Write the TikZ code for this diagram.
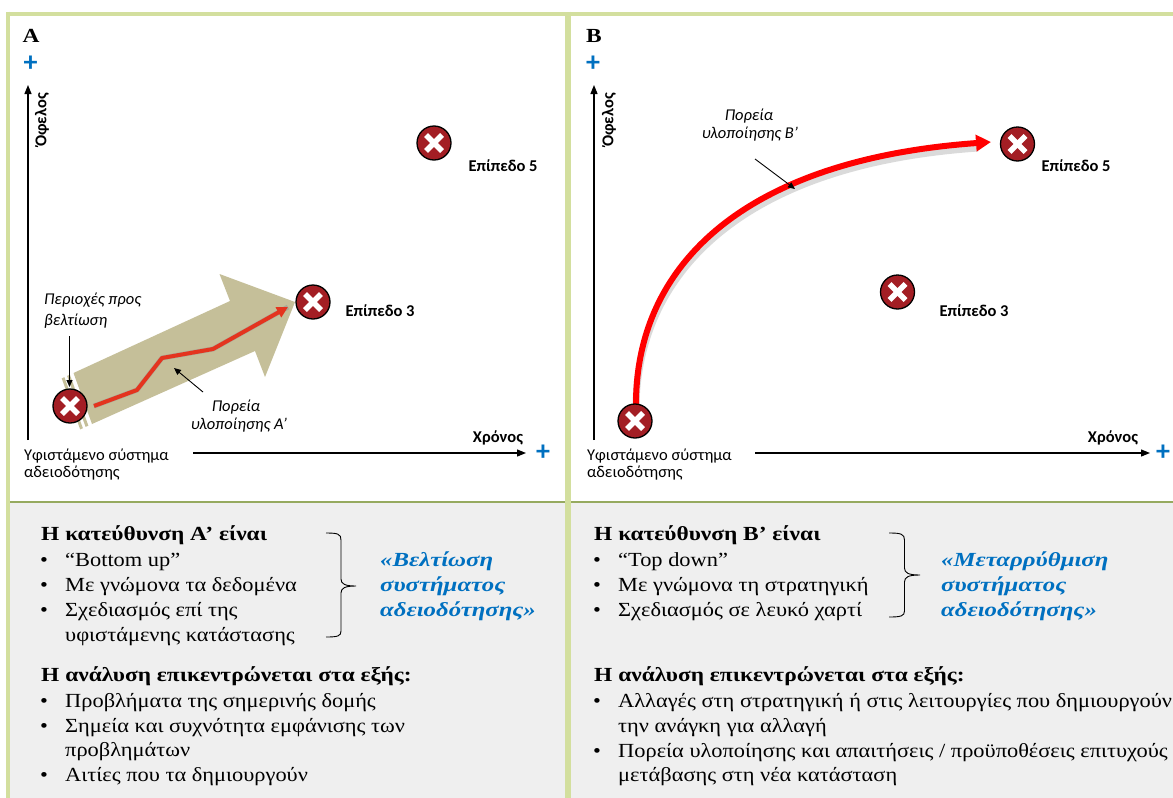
\documentclass[tikz,border=0pt]{standalone}
\usepackage{fontspec}
\setmainfont{Liberation Serif}[FakeStretch=1.12]
\newfontfamily\serifbold{Liberation Serif}[FakeStretch=1.17]
\newfontfamily\serifbi{Liberation Serif}[FakeStretch=1.24]
\setsansfont{Carlito}
\usetikzlibrary{arrows.meta}
\definecolor{frameg}{RGB}{211,223,158}
\definecolor{olivel}{RGB}{150,170,95}
\definecolor{panelgray}{RGB}{239,239,239}
\definecolor{khaki}{RGB}{197,191,153}
\definecolor{redA}{RGB}{228,52,30}
\definecolor{redB}{RGB}{255,0,0}
\definecolor{iconred}{RGB}{163,30,36}
\definecolor{plusblue}{RGB}{0,112,192}
\definecolor{shadowg}{RGB}{150,150,150}
\tikzset{
  icon/.style={circle, minimum size=34pt, inner sep=0pt, fill=iconred, draw=black, line width=1.3pt,
    path picture={
      \draw[white, line width=5.5pt] ([shift={(-8,-8)}]path picture bounding box.center) -- ([shift={(8,8)}]path picture bounding box.center);
      \draw[white, line width=5.5pt] ([shift={(-8,8)}]path picture bounding box.center) -- ([shift={(8,-8)}]path picture bounding box.center);
    }},
  sansreg/.style={font=\sffamily\fontsize{16.5}{19}\selectfont, inner sep=0pt},
  sansbold/.style={font=\sffamily\bfseries\fontsize{16.5}{19}\selectfont, inner sep=0pt},
  sansit/.style={font=\sffamily\itshape\fontsize{16.5}{19}\selectfont, inner sep=0pt},
  plussign/.style={font=\sffamily\bfseries\fontsize{28}{30}\selectfont, text=plusblue, inner sep=0pt},
  panellabel/.style={font=\serifbold\bfseries\fontsize{20}{24}\selectfont, inner sep=0pt, anchor=base},
  axisline/.style={line width=1.2pt, -{Triangle[length=9pt,width=7pt]}},
  pointer/.style={line width=0.9pt, -{Triangle[length=7pt,width=6pt]}},
  tx/.style={font=\fontsize{20}{25}\selectfont, inner sep=0pt, anchor=base west},
  txb/.style={font=\serifbold\bfseries\fontsize{20}{25}\selectfont, inner sep=0pt, anchor=base west},
  txblue/.style={font=\serifbi\bfseries\itshape\fontsize{20}{25}\selectfont, text=plusblue, inner sep=0pt, anchor=base west},
  bul/.style={font=\fontsize{20}{25}\selectfont, inner sep=0pt, anchor=base},
  bracestyle/.style={line width=0.9pt},
}
\begin{document}
\begin{tikzpicture}[x=1pt,y=-1pt]
\useasboundingbox (0,0) rectangle (1173,798);
\clip (0,0) rectangle (1173,798);
% backgrounds and frame
\fill[white] (0,0) rectangle (1173,798);
\fill[panelgray] (8,502) rectangle (1173,798);
\draw[olivel, line width=1.2pt] (8,502) -- (1173,502);
\draw[frameg, line width=4pt] (6,13.5) -- (1173,13.5);
\draw[frameg, line width=4pt] (8,11.5) -- (8,798);
\draw[frameg, line width=6pt] (568,11.5) -- (568,798);

% ================= Panel A =================
\node[panellabel] (labA) at (31,42) {A};
\node[plussign] (plAy) at (30.5,64) {+};
\node[plussign] (plAx) at (543,453) {+};
\coordinate (AyS) at (28,440);
\coordinate (AyE) at (28,85);
\coordinate (AxS) at (193,453);
\coordinate (AxE) at (526,453);
\draw[axisline] (AyS) -- (AyE);
\draw[axisline] (AxS) -- (AxE);
\node[sansbold, rotate=90] (ofA) at (42,120) {Όφελος};
\node[sansbold, anchor=base] (xrA) at (498,442) {Χρόνος};
\node[sansreg, anchor=base west] (ypA1) at (24,460) {Υφιστάμενο σύστημα};
\node[sansreg, anchor=base west] (ypA2) at (24,477) {αδειοδότησης};

% big khaki striped arrow
\fill[khaki] (73.5,373) -- (230,301) -- (219.5,274) -- (295,302) -- (265,377) -- (255,351) -- (92,424) -- cycle;
\fill[khaki] (69.9,374.7) -- (88.4,425.7) -- (85.6,426.9) -- (67.1,375.9) -- cycle;
\fill[khaki] (64.4,377.2) -- (82.9,428.2) -- (80.2,429.4) -- (61.7,378.4) -- cycle;

% red path A with shadow
\coordinate (rA0) at (94,406);
\coordinate (rA1) at (137,390);
\coordinate (rA2) at (162,358);
\coordinate (rA3) at (213,349);
\coordinate (rA4) at (288,307);
\draw[shadowg, opacity=0.55, line width=5pt, line join=round, shift={(2,3.5)}] (rA0) -- (rA1) -- (rA2) -- (rA3) -- (rA4);
\draw[redA, line width=4pt, line join=round, -{Triangle[length=11pt,width=11pt]}] (rA0) -- (rA1) -- (rA2) -- (rA3) -- (rA4);

% icons A
\node[icon] (iA0) at (70,406) {};
\node[icon] (iA3) at (313,302) {};
\node[icon] (iA5) at (434,143) {};
\node[sansbold, anchor=base] (eA3) at (380,316) {Επίπεδο 3};
\node[sansbold, anchor=base] (eA5) at (503,171) {Επίπεδο 5};

% labels and pointers A
\node[sansit, anchor=base west] (perA1) at (44,304) {Περιοχές προς};
\node[sansit, anchor=base west] (perA2) at (44,325) {βελτίωση};
\coordinate (pA1s) at (69.5,336);
\coordinate (pA1e) at (69.5,387);
\draw[pointer] (pA1s) -- (pA1e);
\node[sansit, anchor=base] (porA1) at (236,411) {Πορεία};
\node[sansit, anchor=base] (porA2) at (239,429) {υλοποίησης Α’};
\coordinate (pA2s) at (203,392);
\coordinate (pA2e) at (174,368);
\draw[pointer] (pA2s) -- (pA2e);

% ================= Panel B =================
\node[panellabel] (labB) at (594,42) {B};
\node[plussign] (plBy) at (593,64) {+};
\node[plussign] (plBx) at (1163,453) {+};
\coordinate (ByS) at (594,440);
\coordinate (ByE) at (594,85);
\coordinate (BxS) at (755,453);
\coordinate (BxE) at (1150,453);
\draw[axisline] (ByS) -- (ByE);
\draw[axisline] (BxS) -- (BxE);
\node[sansbold, rotate=90] (ofB) at (609,120) {Όφελος};
\node[sansbold, anchor=base] (xrB) at (1113,442) {Χρόνος};
\node[sansreg, anchor=base west] (ypB1) at (587,460) {Υφιστάμενο σύστημα};
\node[sansreg, anchor=base west] (ypB2) at (587,477) {αδειοδότησης};

% red curve B with shadow
\coordinate (rB0) at (636,404);
\coordinate (rB1) at (991,142);
\draw[shadowg, opacity=0.35, line width=7pt, shift={(3,4)}] (rB0) .. controls (636,268) and (740,160) .. (975,144);
\draw[redB, line width=6pt, -{Triangle[length=15pt,width=16pt]}] (rB0) .. controls (636,268) and (740,160) .. (rB1);

% icons B
\node[icon] (iB0) at (635,421) {};
\node[icon] (iB3) at (897.5,292) {};
\node[icon] (iB5) at (1017.5,144) {};
\node[sansbold, anchor=base] (eB3) at (974,316) {Επίπεδο 3};
\node[sansbold, anchor=base] (eB5) at (1076,171) {Επίπεδο 5};

\node[sansit, anchor=base] (porB1) at (749,120) {Πορεία};
\node[sansit, anchor=base] (porB2) at (750,138) {υλοποίησης Β’};
\coordinate (pBs) at (755,159);
\coordinate (pBe) at (795,189);
\draw[pointer] (pBs) -- (pBe);

% ================= Bottom A =================
\node[txb] (hA1) at (41,540) {Η κατεύθυνση Α’ είναι};
\node[bul] (bA1) at (44,566) {•};
\node[tx] (tA1) at (65,566) {“Bottom up”};
\node[bul] (bA2) at (44,591) {•};
\node[tx] (tA2) at (65,591) {Με γνώμονα τα δεδομένα};
\node[bul] (bA3) at (44,616) {•};
\node[tx] (tA3) at (65,616) {Σχεδιασμός επί της};
\node[tx] (tA3b) at (65,641.5) {υφιστάμενης κατάστασης};
\draw[bracestyle] (326,533) .. controls (338,533) and (341,534) .. (341,540) -- (341,579)
  .. controls (341,584) and (345,586) .. (356,586) .. controls (345,586) and (341,588) .. (341,593)
  -- (341,631) .. controls (341,636) and (338,637) .. (326,637);
\node[txblue] (blA1) at (380,566) {«Βελτίωση};
\node[txblue] (blA2) at (380,591) {συστήματος};
\node[txblue] (blA3) at (380,616) {αδειοδότησης»};
\node[txb] (hA2) at (41,681) {Η ανάλυση επικεντρώνεται στα εξής:};
\node[bul] (bA4) at (44,707) {•};
\node[tx] (tA4) at (65,707) {Προβλήματα της σημερινής δομής};
\node[bul] (bA5) at (44,732) {•};
\node[tx] (tA5) at (65,732) {Σημεία και συχνότητα εμφάνισης των};
\node[tx] (tA5b) at (65,756.5) {προβλημάτων};
\node[bul] (bA6) at (44,781) {•};
\node[tx] (tA6) at (65,781) {Αιτίες που τα δημιουργούν};

% ================= Bottom B =================
\node[txb] (hB1) at (594,540) {Η κατεύθυνση Β’ είναι};
\node[bul] (bB1) at (597,566) {•};
\node[tx] (tB1) at (618,566) {“Top down”};
\node[bul] (bB2) at (597,591) {•};
\node[tx] (tB2) at (618,591) {Με γνώμονα τη στρατηγική};
\node[bul] (bB3) at (597,616) {•};
\node[tx] (tB3) at (618,616) {Σχεδιασμός σε λευκό χαρτί};
\draw[bracestyle] (889,533) .. controls (901,533) and (904.5,534) .. (904.5,540) -- (904.5,568)
  .. controls (904.5,573) and (908.5,575) .. (920,575) .. controls (908.5,575) and (904.5,577) .. (904.5,582)
  -- (904.5,611) .. controls (904.5,616) and (901,617) .. (889,617);
\node[txblue] (blB1) at (941,566) {«Μεταρρύθμιση};
\node[txblue] (blB2) at (941,591) {συστήματος};
\node[txblue] (blB3) at (941,616) {αδειοδότησης»};
\node[txb] (hB2) at (594,681) {Η ανάλυση επικεντρώνεται στα εξής:};
\node[bul] (bB4) at (597,707) {•};
\node[tx] (tB4) at (618,707) {Αλλαγές στη στρατηγική ή στις λειτουργίες που δημιουργούν};
\node[tx] (tB4b) at (618,732) {την ανάγκη για αλλαγή};
\node[bul] (bB5) at (597,757) {•};
\node[tx] (tB5) at (618,757) {Πορεία υλοποίησης και απαιτήσεις / προϋποθέσεις επιτυχούς};
\node[tx] (tB5b) at (618,781) {μετάβασης στη νέα κατάσταση};
\end{tikzpicture}
\end{document}
